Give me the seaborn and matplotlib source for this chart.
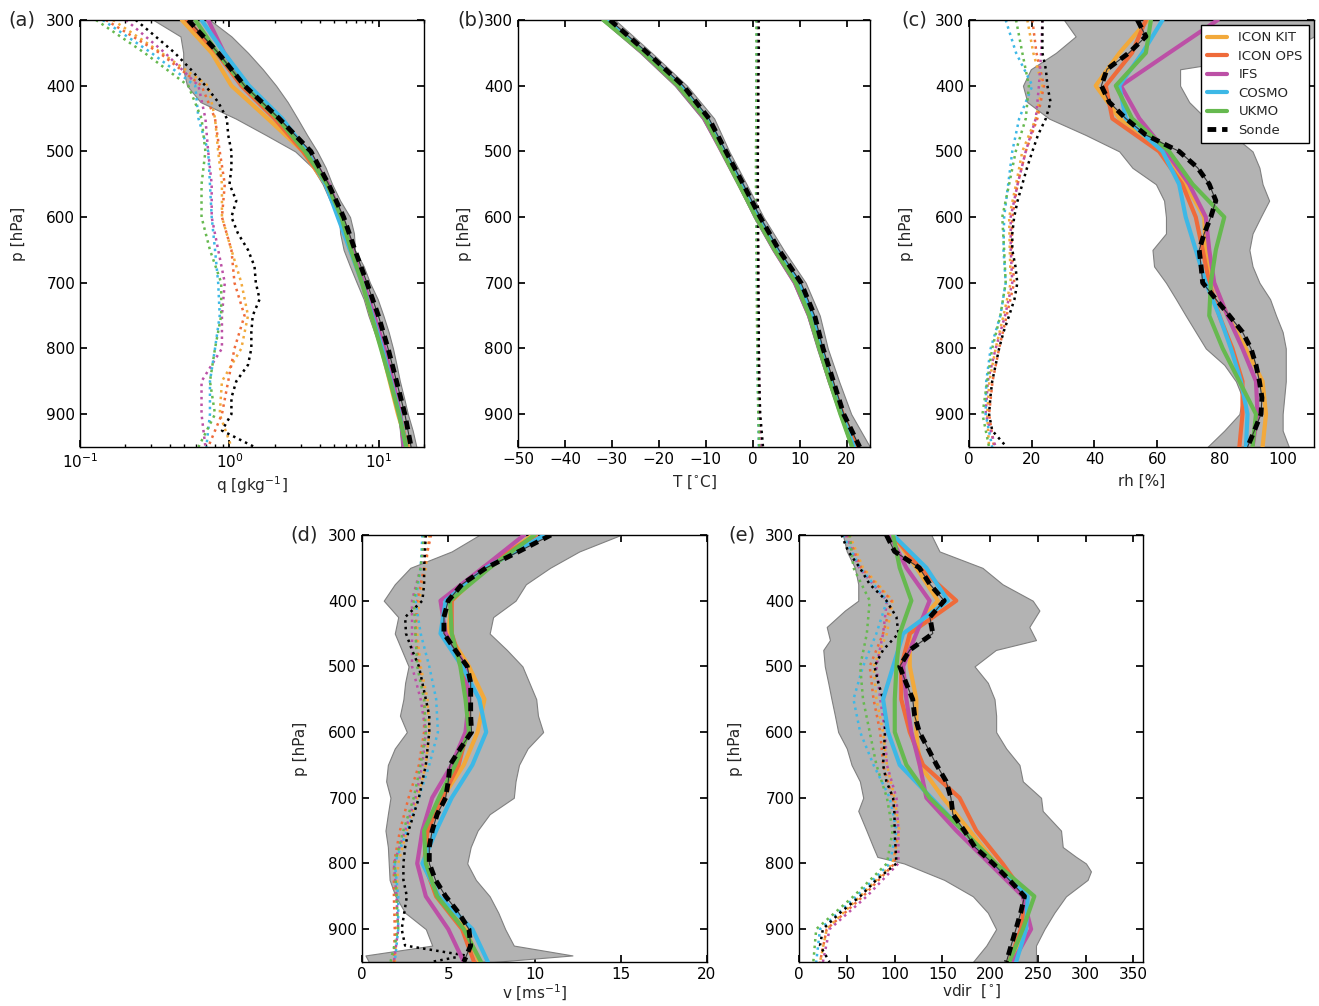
import numpy as np
import matplotlib
matplotlib.use("Agg")
import matplotlib.pyplot as plt
import seaborn as sns

# ---------------- data ----------------
p50 = [300, 350, 400, 450, 500, 550, 600, 650, 700, 750, 800, 850, 900, 950]
p25 = [300, 325, 350, 375, 400, 425, 450, 475, 500, 525, 550, 575, 600, 625,
       650, 675, 700, 725, 750, 775, 800, 825, 850, 875, 900, 925, 950]

models = ["ICON KIT", "ICON OPS", "IFS", "COSMO", "UKMO"]
colors = ["#F2A93B", "#EF6B3A", "#BC50A6", "#3DB8E6", "#66B94F"]

# (a) specific humidity q [g/kg]
q_mean = {
    "ICON KIT": [0.48, 0.76, 1.03, 1.8, 3.1, 4.4, 5.5, 6.4, 7.7, 8.9, 10.4, 11.8, 13.4, 15.6],
    "ICON OPS": [0.52, 0.82, 1.2, 2.0, 3.1, 4.5, 5.6, 6.5, 7.8, 9.1, 10.6, 12.1, 13.8, 15.3],
    "IFS":      [0.72, 0.92, 1.3, 2.2, 3.3, 4.6, 5.6, 6.6, 7.9, 9.3, 10.9, 12.4, 13.9, 14.7],
    "COSMO":    [0.65, 0.92, 1.35, 2.25, 3.3, 4.4, 5.3, 6.4, 7.7, 9.0, 10.5, 12.0, 13.7, 15.2],
    "UKMO":     [0.59, 0.83, 1.25, 2.1, 3.2, 4.5, 5.6, 6.5, 7.7, 8.9, 10.3, 11.9, 13.6, 15.2],
}
q_std = {
    "ICON KIT": [0.166, 0.35, 0.72, 0.8, 0.84, 0.89, 0.89, 1.03, 1.2, 1.33, 1.2, 0.89, 0.86, 1.03],
    "ICON OPS": [0.149, 0.34, 0.65, 0.80, 0.86, 0.93, 0.89, 1.03, 1.08, 1.26, 1.08, 0.98, 0.89, 0.72],
    "IFS":      [0.203, 0.37, 0.62, 0.69, 0.72, 0.76, 0.76, 0.84, 0.93, 0.89, 0.89, 0.65, 0.65, 0.69],
    "COSMO":    [0.142, 0.30, 0.59, 0.62, 0.72, 0.74, 0.76, 0.8, 0.84, 0.86, 0.8, 0.74, 0.74, 0.70],
    "UKMO":     [0.128, 0.27, 0.53, 0.65, 0.69, 0.65, 0.65, 0.74, 0.88, 0.88, 0.8, 0.74, 0.8, 0.62],
}
q_sonde = [0.53, 0.84, 1.26, 2.15, 3.5, 4.6, 5.8, 6.9, 8.3, 9.9, 11.5, 13.1, 14.9, 16.4]
q_sonde_std = [0.236, 0.32, 0.43, 0.55, 0.69, 0.84, 0.96, 0.98, 1.03, 1.03, 1.0, 1.11, 1.03, 1.14,
               1.33, 1.47, 1.5, 1.59, 1.43, 1.4, 1.4, 1.33, 1.11, 1.03, 1.03, 0.89, 1.47]
q_band_lo = [0.31, 0.47, 0.49, 0.49, 0.52, 0.64, 1.1, 1.75, 2.75, 3.6, 4.2, 4.7, 5.4, 5.5,
             5.8, 6.4, 7.1, 7.9, 8.5, 9.3, 10.2, 11.0, 11.8, 12.6, 13.4, 13.8, 14.1]
q_band_hi = [0.74, 1.03, 1.33, 1.67, 2.05, 2.45, 2.85, 3.3, 3.86, 4.4, 4.86, 5.5, 6.4, 6.8,
             6.9, 7.9, 8.7, 9.8, 10.7, 11.6, 12.4, 13.1, 13.8, 14.7, 15.6, 16.8, 17.8]

# (b) temperature T [degC]
T_mean = {
    "ICON KIT": [-31.5, -23.2, -15.8, -10.0, -6.4, -2.8, 0.8, 4.8, 9.3, 12.3, 14.3, 16.5, 18.9, 21.8],
    "ICON OPS": [-31.3, -23.0, -15.6, -9.8, -6.2, -2.5, 1.1, 5.1, 9.6, 12.6, 14.6, 16.8, 19.2, 22.2],
    "IFS":      [-31.6, -23.4, -16.0, -10.3, -6.6, -2.9, 0.7, 4.6, 9.0, 12.0, 14.2, 16.4, 18.8, 21.5],
    "COSMO":    [-31.2, -22.9, -15.4, -9.7, -6.0, -2.3, 1.3, 5.3, 9.8, 12.8, 14.6, 16.7, 19.0, 21.6],
    "UKMO":     [-31.8, -23.3, -15.9, -10.1, -6.5, -2.9, 0.7, 4.7, 9.2, 12.1, 14.2, 16.4, 18.7, 21.2],
}
T_std = {
    "ICON KIT": [1.0, 1.0, 0.9, 0.9, 0.9, 0.9, 0.9, 1.0, 1.0, 1.0, 1.1, 1.2, 1.3, 1.5],
    "ICON OPS": [1.1, 1.1, 1.0, 1.0, 1.0, 1.0, 1.0, 1.1, 1.1, 1.1, 1.2, 1.3, 1.4, 1.7],
    "IFS":      [1.2, 1.2, 1.1, 1.1, 1.0, 1.0, 1.0, 1.1, 1.2, 1.2, 1.3, 1.4, 1.5, 1.8],
    "COSMO":    [0.9, 0.9, 0.8, 0.8, 0.8, 0.8, 0.8, 0.9, 0.9, 1.0, 1.0, 1.1, 1.2, 1.3],
    "UKMO":     [0.8, 0.8, 0.8, 0.8, 0.7, 0.7, 0.8, 0.8, 0.9, 0.9, 1.0, 1.1, 1.2, 1.4],
}
T_sonde = [-30.4, -22.4, -14.8, -9.3, -5.7, -2.0, 1.6, 5.6, 10.3, 13.2, 15.0, 17.2, 19.4, 22.8]
T_sonde_std = [1.3, 1.3, 1.2, 1.2, 1.1, 1.1, 1.1, 1.2, 1.2, 1.3, 1.3, 1.4, 1.6, 2.2]
T_band_lo = [-32.2, -24.0, -16.6, -10.8, -6.9, -3.2, 0.2, 4.2, 8.6, 11.6, 13.7, 16.0, 18.5, 20.8]
T_band_hi = [-29.3, -21.5, -14.0, -8.2, -5.0, -1.3, 2.3, 6.6, 11.3, 14.3, 16.0, 18.4, 21.0, 25.0]

# (c) relative humidity rh [%]
rh_mean = {
    "ICON KIT": [57, 48, 40.4, 48, 62.8, 69, 75, 75.5, 78, 82.4, 88.3, 93.6, 94.7, 93.6],
    "ICON OPS": [56.4, 52, 43.6, 45.7, 60.6, 68, 72.3, 74.5, 76.6, 79.8, 84, 87.2, 87.2, 86.2],
    "IFS":      [79.3, 63.8, 48.4, 54.3, 62.8, 70.2, 75.5, 76.6, 78.2, 82.4, 87.2, 91.5, 92, 90.4],
    "COSMO":    [61.7, 55.3, 47.9, 50, 61.7, 67, 69.1, 72.3, 75.5, 79.8, 83.5, 86.7, 88.8, 88.3],
    "UKMO":     [58, 56.4, 46.8, 52, 63.8, 71.3, 81.4, 78.7, 77.1, 76.6, 80.9, 86.2, 91.5, 90.4],
}
rh_std = {
    "ICON KIT": [18.6, 20.5, 23.4, 21.3, 17.0, 15.0, 12.8, 13.0, 13.3, 11.0, 8.5, 6.5, 5.8, 6.4],
    "ICON OPS": [20.2, 21.5, 23.9, 21.8, 18.1, 15.5, 13.8, 13.6, 14.4, 12.0, 9.6, 7.5, 6.4, 8.0],
    "IFS":      [23.4, 23.0, 22.3, 21.3, 18.1, 15.5, 13.3, 13.3, 13.8, 11.5, 8.5, 6.0, 5.3, 8.5],
    "COSMO":    [11.7, 15.0, 20.2, 16.0, 13.8, 12.5, 11.2, 11.0, 11.7, 10.0, 6.9, 5.5, 5.3, 7.4],
    "UKMO":     [15.0, 17.0, 19.1, 18.1, 14.9, 12.8, 10.6, 11.2, 11.7, 10.0, 7.4, 5.8, 4.3, 6.4],
}
rh_sonde = [53.7, 56.4, 51.0, 44.0, 42.2, 44.7, 50.0, 56.4, 67.0, 72.9, 76.6, 78.7, 77.1, 75.0,
            73.4, 74.0, 74.5, 78.7, 83.0, 87.2, 89.9, 91.5, 92.6, 93.4, 93.1, 91.0, 88.8]
rh_sonde_std = [23.4, 23.4, 23.4, 24.5, 25.0, 26.0, 24.5, 22.0, 20.2, 18.5, 17.0, 15.5, 14.4, 13.8,
                13.8, 14.8, 15.4, 14.5, 12.8, 11.0, 9.6, 8.5, 7.4, 6.8, 6.4, 7.4, 12.0]
rh_band_lo = [30.3, 34.0, 27.7, 19.7, 17.2, 18.6, 25.5, 37.2, 47.9, 52.1, 59.6, 62.2, 62.8, 62.8,
              58.5, 59.0, 62.8, 66.0, 69.1, 72.3, 75.5, 81.4, 85.1, 87.2, 86.2, 81.4, 76.0]
rh_band_hi = [110, 110, 100, 67.3, 67.3, 70.2, 75.5, 84.0, 90.4, 92.6, 93.6, 95.7, 93.0, 90.4,
              89.4, 90.4, 92.6, 96.0, 97.9, 100.0, 101.0, 101.0, 101.0, 100.5, 100.0, 100.0, 102.0]

# (d) wind speed v [m/s]
p_v_band = [300, 325, 350, 375, 400, 425, 450, 475, 500, 525, 550, 575, 600, 625,
            650, 675, 700, 725, 750, 775, 800, 825, 850, 875, 900, 925, 940, 950]
v_mean = {
    "ICON KIT": [9.9, 7.2, 5.2, 5.0, 6.2, 7.1, 6.7, 5.9, 4.65, 3.7, 3.7, 4.3, 6.0, 6.8],
    "ICON OPS": [10.1, 7.0, 5.2, 5.2, 5.8, 6.2, 6.1, 5.6, 4.65, 3.8, 3.6, 4.3, 5.8, 6.5],
    "IFS":      [9.4, 7.0, 4.55, 4.85, 6.0, 6.2, 6.0, 5.2, 4.07, 3.5, 3.2, 3.7, 5.0, 5.9],
    "COSMO":    [10.6, 7.2, 4.85, 4.55, 5.8, 6.8, 7.2, 6.4, 5.2, 4.3, 3.5, 4.46, 6.4, 7.3],
    "UKMO":     [10.0, 7.4, 5.1, 5.2, 5.7, 6.0, 6.2, 5.4, 4.46, 3.6, 3.7, 4.36, 5.9, 6.9],
}
v_std = {
    "ICON KIT": [3.9, 3.7, 3.3, 3.2, 3.4, 3.8, 3.9, 3.7, 3.2, 2.6, 2.1, 2.0, 2.0, 1.9],
    "ICON OPS": [4.0, 3.6, 3.2, 3.1, 3.3, 3.6, 3.6, 3.3, 2.7, 2.2, 1.85, 1.85, 1.9, 1.85],
    "IFS":      [3.7, 3.4, 2.9, 2.9, 2.9, 3.4, 3.7, 3.5, 3.1, 2.5, 1.85, 2.0, 2.1, 1.85],
    "COSMO":    [3.5, 3.4, 3.1, 3.4, 3.9, 4.3, 4.4, 3.9, 3.3, 2.6, 1.9, 2.1, 2.1, 1.9],
    "UKMO":     [3.6, 3.4, 3.0, 3.1, 3.2, 3.6, 3.7, 3.4, 3.0, 2.4, 1.9, 2.0, 2.1, 1.65],
}
v_sonde = [10.95, 9.1, 7.2, 5.8, 5.0, 4.75, 4.75, 5.4, 6.1, 6.3, 6.3, 6.3, 6.35, 5.7,
           5.1, 5.0, 4.85, 4.36, 4.07, 3.9, 3.9, 4.26, 4.85, 5.6, 6.2, 6.3, 5.9]
v_sonde_std = [3.7, 3.65, 3.6, 3.6, 3.5, 2.5, 2.55, 2.9, 3.3, 3.5, 3.7, 3.9, 3.9, 3.8,
               3.7, 3.5, 3.3, 3.0, 2.7, 2.5, 2.4, 2.4, 2.6, 2.45, 2.3, 2.5, 6.0, 4.0]
v_band_lo = [6.8, 5.2, 2.8, 1.9, 1.26, 2.1, 1.9, 2.3, 2.7, 2.5, 2.4, 2.2, 2.6, 1.9,
             1.5, 1.4, 1.65, 1.5, 1.36, 1.5, 1.55, 1.6, 1.94, 2.5, 3.7, 4.07, 0.2, 0.4]
v_band_hi = [15.0, 12.6, 10.9, 9.5, 8.9, 7.6, 7.4, 8.4, 9.3, 9.7, 10.1, 10.2, 10.5, 9.6,
             9.1, 8.9, 8.8, 7.4, 6.7, 6.3, 6.1, 6.6, 7.4, 7.9, 8.3, 8.8, 12.2, 7.6]

# (e) wind direction vdir [deg]
p_dir_band = [300, 325, 350, 375, 400, 415, 440, 460, 475, 500, 525, 550, 575, 600, 625,
              650, 675, 700, 720, 750, 775, 790, 800, 812, 825, 850, 875, 900, 925, 950]
dir_mean = {
    "ICON KIT": [98.5, 123, 145.4, 115.9, 115.9, 122.8, 122.8, 126.3, 150.7, 178.5, 206, 236, 234, 225],
    "ICON OPS": [98.5, 126.3, 164.6, 115.9, 107, 107, 115.9, 129.8, 168, 185.5, 213, 237.6, 232, 220],
    "IFS":      [95, 112.4, 136.7, 122.8, 109, 112.4, 117.6, 126.3, 133.3, 164.6, 199.4, 234.2, 242.9, 223.7],
    "COSMO":    [98.5, 133.3, 155.9, 109, 98.5, 88, 93.2, 105.4, 138.5, 171.5, 204.6, 239.4, 237.6, 227.2],
    "UKMO":     [98.5, 105.4, 117.6, 105.4, 102, 100.2, 100.2, 112.4, 136.7, 171.5, 206, 246.3, 234.2, 220],
}
dir_std = {
    "ICON KIT": [53, 67, 98, 92, 78, 81, 88, 92, 100, 105, 98, 64, 29, 22],
    "ICON OPS": [51, 65, 97, 88, 74, 78, 85, 88, 98, 102, 100, 67, 29, 22],
    "IFS":      [49, 63, 92, 88, 81, 85, 90, 92, 102, 104, 104, 71, 32, 25],
    "COSMO":    [46, 64, 92, 81, 67, 57, 64, 78, 95, 102, 95, 60, 22, 18],
    "UKMO":     [53, 57, 74, 71, 64, 67, 74, 81, 92, 98, 92, 57, 18, 15],
}
dir_sonde = [91.5, 100, 126, 137, 152, 137, 140, 116, 105.4, 112, 119, 121, 126, 135,
             144, 154, 159, 161, 173, 184, 203, 220, 236, 232, 227, 222, 217]
dir_sonde_std = [44.5, 51.5, 63.7, 74, 91.5, 102, 104, 88, 79, 83, 88, 90, 90, 89,
                 88, 91.5, 98.5, 100, 100, 101, 102, 81, 64, 43, 25, 22, 32]
dir_band_lo = [46, 50, 58.5, 62, 62, 48, 29, 32.4, 25.4, 27, 30.6, 34, 37.6, 41, 50,
               55, 63.7, 67.2, 62, 70.6, 77.6, 82, 110, 130, 152, 182, 197.6, 206.3, 196, 182]
dir_band_hi = [138.5, 147, 192, 213, 244.6, 251.6, 241, 248, 206, 183.7, 197.6, 204.6, 206.3, 206.3, 216.8,
               230.7, 234.2, 253.3, 255, 274.2, 276, 290, 300.3, 305.5, 302, 279.4, 267.2, 256.8, 248, 248]

# ---------------- style ----------------
sns.set_theme(style="ticks", rc={
    "xtick.direction": "in", "ytick.direction": "in",
    "xtick.top": True, "ytick.right": True,
    "axes.edgecolor": "black", "axes.linewidth": 1.0,
    "xtick.color": "black", "ytick.color": "black",
    "xtick.major.size": 5, "ytick.major.size": 5,
    "xtick.minor.size": 2.5, "ytick.minor.size": 2.5,
    "font.size": 11, "axes.labelsize": 11,
    "xtick.labelsize": 11, "ytick.labelsize": 11,
    "axes.unicode_minus": True,
})
plt.rcParams["font.family"] = ["DejaVu Sans"]

W, H = 1319, 1006
fig = plt.figure(figsize=(W / 100, H / 100), dpi=100)


def ax_at(l, r, t, b):
    return fig.add_axes([l / W, 1 - b / H, (r - l) / W, (b - t) / H])


BAND_FACE = "#B3B3B3"
BAND_EDGE = "#808080"


def panel(ax, mean, std, p_s, sonde, p_ss, sonde_std, p_b, lo, hi):
    ax.fill_betweenx(p_b, lo, hi, facecolor=BAND_FACE, edgecolor=BAND_EDGE,
                     linewidth=0.8, zorder=1)
    for m, c in zip(models, colors):
        sns.lineplot(x=std[m], y=p50, orient="y", sort=False, estimator=None,
                     color=c, linewidth=1.8, linestyle=":", ax=ax, legend=False, zorder=2)
    sns.lineplot(x=sonde_std, y=p_ss, orient="y", sort=False, estimator=None,
                 color="black", linewidth=1.8, linestyle=":", ax=ax, legend=False, zorder=2)
    handles = []
    for m, c in zip(models, colors):
        sns.lineplot(x=mean[m], y=p50, orient="y", sort=False, estimator=None,
                     color=c, linewidth=3, ax=ax, legend=False, zorder=3)
        handles.append(ax.lines[-1])
    sns.lineplot(x=sonde, y=p_s, orient="y", sort=False, estimator=None,
                 color="#333333", linewidth=0.8, ax=ax, legend=False, zorder=4)
    sns.lineplot(x=sonde, y=p_s, orient="y", sort=False, estimator=None,
                 color="black", linewidth=3.5, linestyle=(0, (1.8, 1.2)),
                 ax=ax, legend=False, zorder=5)
    handles.append(ax.lines[-1])
    ax.set_ylim(950, 300)
    ax.set_yticks([300, 400, 500, 600, 700, 800, 900])
    ax.set_ylabel("p [hPa]")
    return handles


# (a)
axa = ax_at(80, 424, 20, 447)
axa.set_xscale("log")
panel(axa, q_mean, q_std, p50, q_sonde, p25, q_sonde_std, p25, q_band_lo, q_band_hi)
axa.set_xlim(0.1, 20)
axa.set_xlabel("q [gkg$^{-1}$]")
axa.tick_params(which="minor", direction="in", top=True)

# (b)
axb = ax_at(518, 870, 20, 447)
panel(axb, T_mean, T_std, p50, T_sonde, p50, T_sonde_std, p50, T_band_lo, T_band_hi)
axb.set_xlim(-50, 25)
axb.set_xticks([-50, -40, -30, -20, -10, 0, 10, 20])
axb.set_xlabel("T [$^{\\circ}$C]")

# (c)
axc = ax_at(969, 1314, 20, 447)
hnd = panel(axc, rh_mean, rh_std, p25, rh_sonde, p25, rh_sonde_std, p25, rh_band_lo, rh_band_hi)
axc.set_xlim(0, 110)
axc.set_xticks([0, 20, 40, 60, 80, 100])
axc.set_xlabel("rh [%]")
leg = axc.legend(hnd, models + ["Sonde"], loc="upper right", fontsize=9.5,
                 frameon=True, fancybox=False, framealpha=1, edgecolor="black",
                 borderaxespad=0.4, handlelength=1.5, labelspacing=0.42,
                 borderpad=0.45, handletextpad=0.9)
leg.get_frame().set_linewidth(1.0)
leg.set_zorder(10)

# (d)
axd = ax_at(362, 707, 535, 962)
panel(axd, v_mean, v_std, p25, v_sonde, p_v_band, v_sonde_std, p_v_band, v_band_lo, v_band_hi)
axd.set_xlim(0, 20)
axd.set_xticks([0, 5, 10, 15, 20])
axd.set_xlabel("v [ms$^{\\mathsf{-1}}$]")

# (e)
axe = ax_at(799, 1143, 535, 962)
panel(axe, dir_mean, dir_std, p25, dir_sonde, p25, dir_sonde_std, p_dir_band, dir_band_lo, dir_band_hi)
axe.set_xlim(0, 360)
axe.set_xticks([0, 50, 100, 150, 200, 250, 300, 350])
axe.set_xlabel("vdir  [$^{\\circ}$]")

# label positions and panel letters
for ax, lx, letter, lxpx, top in [
    (axa, -0.157, "(a)", 8, 20), (axb, -0.131, "(b)", 457, 20),
    (axc, -0.159, "(c)", 901, 20), (axd, -0.157, "(d)", 290, 535),
    (axe, -0.163, "(e)", 728, 535)]:
    ax.yaxis.set_label_coords(lx, 0.5)
    bb = ax.get_position()
    off = 27 if top == 20 else 21
    ax.xaxis.set_label_coords(0.5, -off / (bb.height * H))
    fig.text(lxpx / W, 1 - top / H, letter, fontsize=14, ha="left", va="center")

fig.savefig("out.png", dpi=100)
